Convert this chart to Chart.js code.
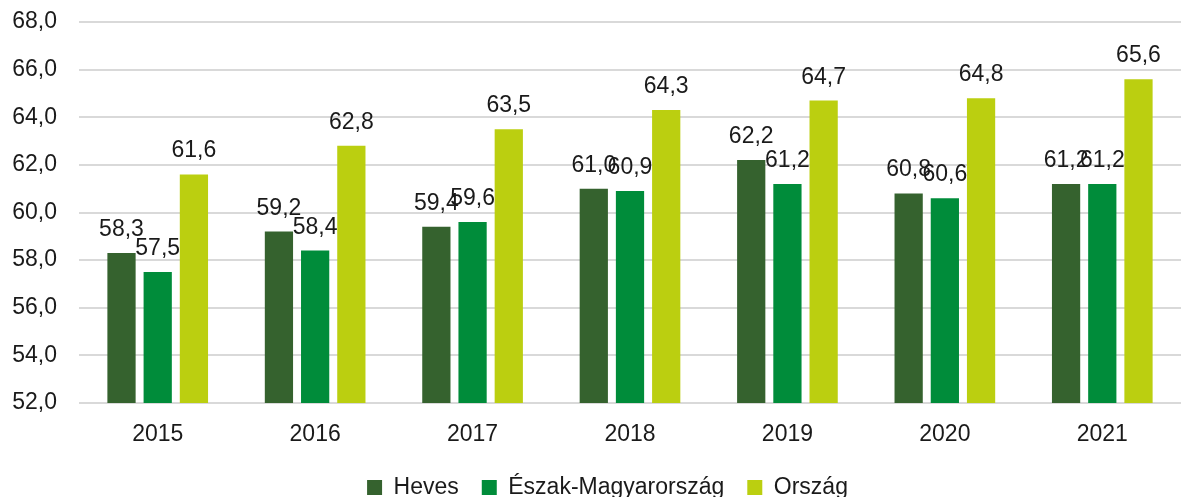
<!DOCTYPE html>
<html>
<head>
<meta charset="utf-8">
<script src="https://cdn.jsdelivr.net/npm/chart.js@4.4.1/dist/chart.umd.min.js"></script>
<style>
html,body{margin:0;padding:0;background:#fff;}
#wrap{width:1181px;height:497px;position:relative;}
</style>
</head>
<body>
<div id="wrap"><canvas id="c" width="1181" height="497"></canvas></div>
<script>
const categories = ["2015","2016","2017","2018","2019","2020","2021"];
const heves = [58.3, 59.2, 59.4, 61.0, 62.2, 60.8, 61.2];
const eszak = [57.5, 58.4, 59.6, 60.9, 61.2, 60.6, 61.2];
const orszag = [61.6, 62.8, 63.5, 64.3, 64.7, 64.8, 65.6];
const seriesNames = ["Heves","Észak-Magyarország","Ország"];
const yMin = 52, yMax = 68, yStep = 2;

const FONT = '"Liberation Sans", Arial, sans-serif';
const fmt = v => v.toFixed(1).replace('.', ',');

const labelPlugin = {
  id: 'barLabels',
  afterDatasetsDraw(chart) {
    const ctx = chart.ctx;
    ctx.save();
    ctx.font = '23px ' + FONT;
    ctx.fillStyle = '#1a1a1a';
    ctx.textAlign = 'center';
    ctx.textBaseline = 'alphabetic';
    chart.data.datasets.forEach((ds, i) => {
      const meta = chart.getDatasetMeta(i);
      meta.data.forEach((bar, j) => {
        ctx.fillText(fmt(ds.data[j]), bar.x, bar.y - 17);
      });
    });
    ctx.restore();
  }
};

const legendShift = {
  id: 'legendShift',
  afterLayout(chart) {
    if (chart.legend) { chart.legend.left += 17; chart.legend.right += 17; }
  }
};

new Chart(document.getElementById('c'), {
  type: 'bar',
  data: {
    labels: categories,
    datasets: [
      {label: seriesNames[0], data: heves, backgroundColor: '#35622e'},
      {label: seriesNames[1], data: eszak, backgroundColor: '#008c3a'},
      {label: seriesNames[2], data: orszag, backgroundColor: '#bbcf10'}
    ]
  },
  options: {
    responsive: false,
    animation: false,
    devicePixelRatio: 1,
    layout: {padding: {top: 22, right: 0, left: 0, bottom: -12}},
    datasets: {bar: {categoryPercentage: 0.69, barPercentage: 0.78}},
    plugins: {
      legend: {
        position: 'bottom',
        labels: {
          boxWidth: 15, boxHeight: 15, padding: 23,
          color: '#1a1a1a',
          font: {size: 23, family: FONT}
        }
      },
      tooltip: {enabled: false}
    },
    scales: {
      x: {
        grid: {display: false, drawTicks: false},
        border: {display: false},
        afterFit(scale) { scale.height = 50; scale.paddingLeft = 0; scale.paddingRight = 0; },
        ticks: {color: '#1a1a1a', padding: 18, font: {size: 23, family: FONT}}
      },
      y: {
        min: yMin, max: yMax,
        afterFit(scale) { scale.width = 79; scale.paddingTop = 0; scale.paddingBottom = 0; },
        grid: {color: '#d9d9d9', lineWidth: 2, drawTicks: false},
        border: {display: false},
        ticks: {
          stepSize: yStep, color: '#1a1a1a', padding: 22,
          font: {size: 23, family: FONT},
          callback: v => fmt(v)
        }
      }
    }
  },
  plugins: [labelPlugin, legendShift]
});
</script>
</body>
</html>
